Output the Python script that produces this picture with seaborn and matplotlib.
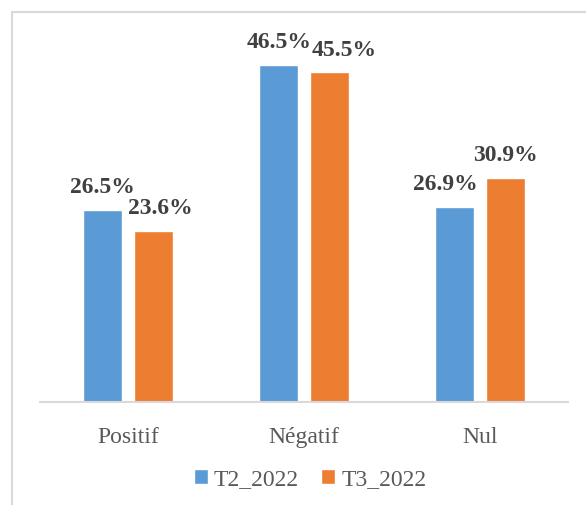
import pandas as pd
import seaborn as sns
import matplotlib
matplotlib.use("Agg")
import matplotlib.pyplot as plt
from matplotlib.patches import Rectangle

# données
categories = ["Positif", "Négatif", "Nul"]
series = ["T2_2022", "T3_2022"]
t2_values = [26.5, 46.5, 26.9]
t3_values = [23.6, 45.5, 30.9]

colors = ["#5B9BD5", "#ED7D31"]
# décalage horizontal des étiquettes (pixels), comme Excel pour éviter les chevauchements
label_dx = [[0, 0, -9], [7, 15, 0]]


def build_frame():
    rows = []
    for name, vals in zip(series, [t2_values, t3_values]):
        for cat, v in zip(categories, vals):
            rows.append({"categorie": cat, "serie": name, "valeur": v})
    return pd.DataFrame(rows)


def main():
    sns.set_style("white")
    plt.rcParams["font.family"] = ["Liberation Serif", "DejaVu Serif"]

    df = build_frame()
    fig = plt.figure(figsize=(5.86, 5.06), dpi=100)
    ax = fig.add_axes([40 / 586, 103 / 506, 528 / 586, (403 - 40.5) / 506])

    sns.barplot(data=df, x="categorie", y="valeur", hue="serie", palette=colors,
                width=0.574, gap=0.23, ax=ax, saturation=1)
    ax.set_ylim(0, 50)
    ax.set_xlim(-0.5, 2.5)

    # étiquettes de données
    for i, cont in enumerate(ax.containers):
        for j, bar in enumerate(cont):
            x = bar.get_x() + bar.get_width() / 2
            h = bar.get_height()
            ax.annotate(f"{h:.1f}%", (x, h), xytext=(label_dx[i][j], 23),
                        textcoords="offset pixels", ha="center", va="center",
                        fontsize=17, fontweight="bold", color="#404040")

    for s in ["left", "right", "top"]:
        ax.spines[s].set_visible(False)
    ax.spines["bottom"].set_color("#D9D9D9")
    ax.spines["bottom"].set_linewidth(1.5)
    ax.set_yticks([])
    ax.set_xlabel("")
    ax.set_ylabel("")
    ax.tick_params(axis="x", length=0, pad=17, labelsize=17, labelcolor="#595959")

    ax.legend(loc="center", bbox_to_anchor=(310 / 586, 1 - 480 / 506), bbox_transform=fig.transFigure,
              ncol=2, frameon=False, fontsize=17, labelcolor="#595959",
              handlelength=0.6, handleheight=0.6, handletextpad=0.25, columnspacing=0.95)

    # bordure de la zone de graphique
    fig.patches.append(Rectangle((12 / 586, -0.1), 1.0, 1 - 13 / 506 + 0.1,
                                 transform=fig.transFigure, fill=False,
                                 edgecolor="#D9D9D9", linewidth=1.5))

    fig.savefig("out.png", dpi=100)


if __name__ == "__main__":
    main()
